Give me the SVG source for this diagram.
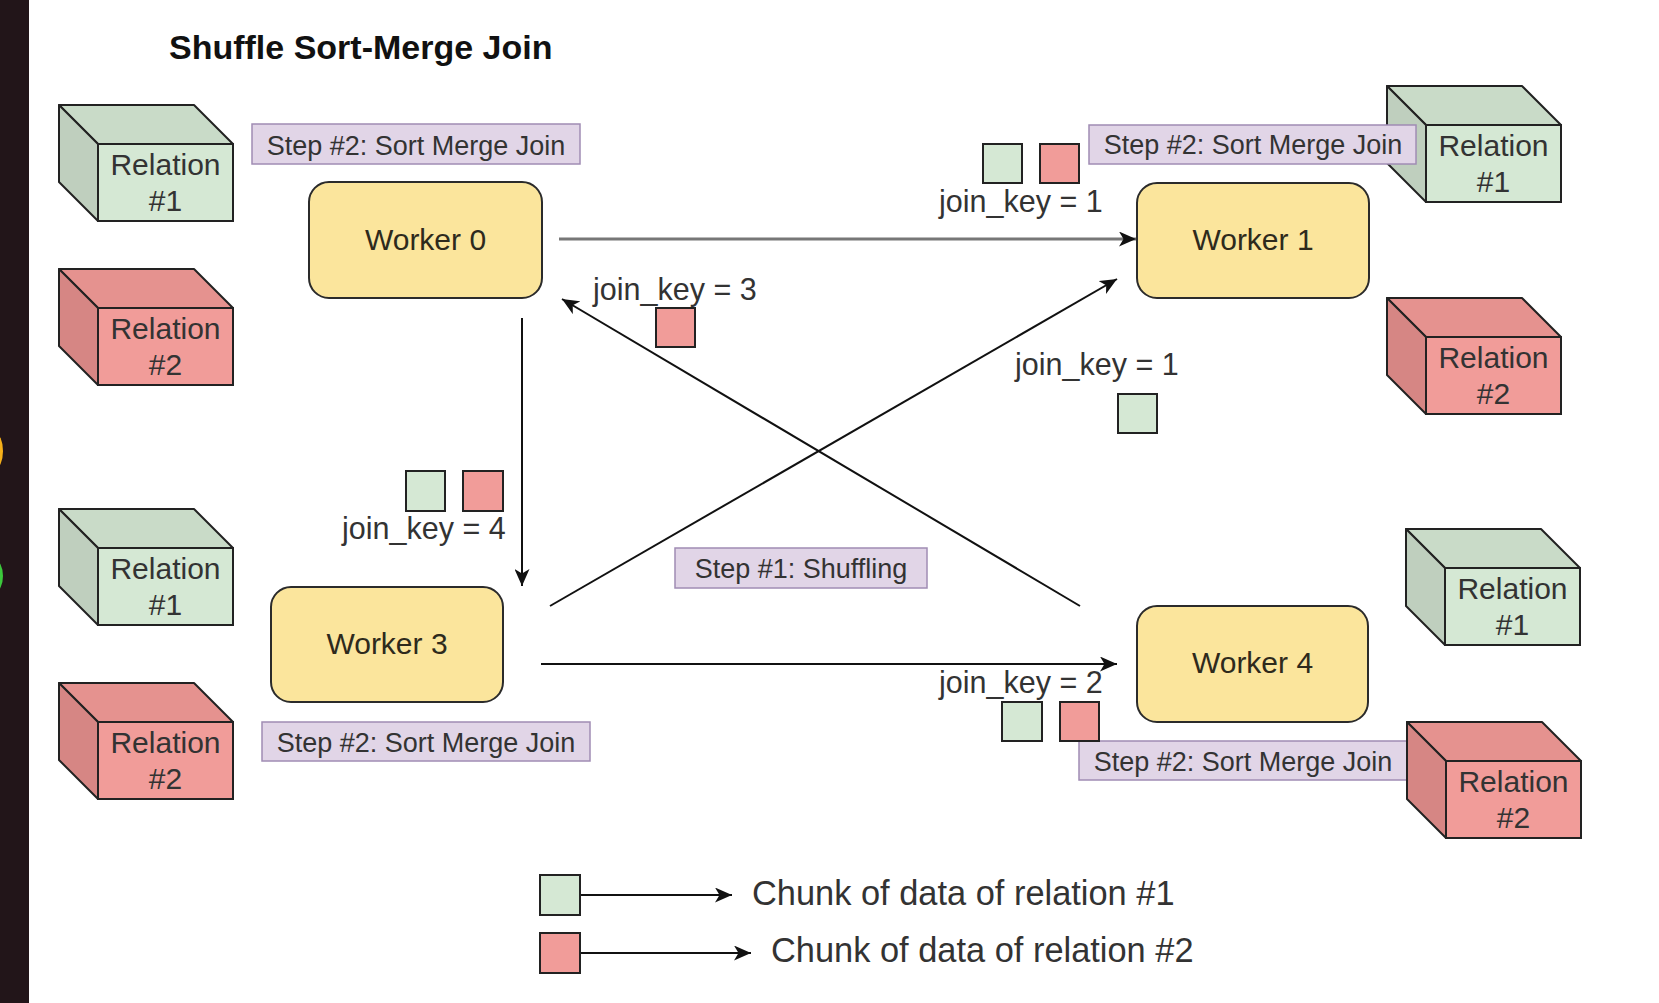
<svg xmlns="http://www.w3.org/2000/svg" width="1659" height="1003" viewBox="0 0 1659 1003">
<defs>
<style>
text{font-family:"Liberation Sans",Arial,sans-serif;fill:#333}
.title{font-weight:bold;font-size:34px;fill:#111}
.step{font-size:27px;text-anchor:middle}
.wk{font-size:30px;text-anchor:middle;fill:#2e2a1c}
.rel{font-size:30px;text-anchor:middle}
.jk{font-size:30.5px}
.leg{font-size:34.4px}
.lbl{fill:#e1d5e7;stroke:#a08cb4;stroke-width:1.5}
.worker{fill:#fbe59c;stroke:#2b2b2b;stroke-width:2}
.g{fill:#d5e8d4;stroke:#222;stroke-width:2}
.r{fill:#f19c99;stroke:#222;stroke-width:2}
.gt{fill:#c9dbc8;stroke:#222;stroke-width:2;stroke-linejoin:round}
.gs{fill:#bfcfbe;stroke:#222;stroke-width:2;stroke-linejoin:round}
.rt{fill:#e5928f;stroke:#222;stroke-width:2;stroke-linejoin:round}
.rs{fill:#d68684;stroke:#222;stroke-width:2;stroke-linejoin:round}
.edge{stroke:#111;stroke-width:2;fill:none;marker-end:url(#ah)}
</style>
<marker id="ah" markerUnits="userSpaceOnUse" markerWidth="18" markerHeight="15" viewBox="0 0 18 15" refX="17" refY="7.5" orient="auto">
<path d="M0,0 L17,7.5 L0,15 L4.5,7.5 Z" fill="#111"/>
</marker>
<g id="cubeG">
<path class="gt" d="M0,0 L135,0 L174,39 L39,39 Z"/>
<path class="gs" d="M0,0 L39,39 L39,116 L0,77 Z"/>
<rect class="g" x="39" y="39" width="135" height="77"/>
</g>
<g id="cubeR">
<path class="rt" d="M0,0 L135,0 L174,39 L39,39 Z"/>
<path class="rs" d="M0,0 L39,39 L39,116 L0,77 Z"/>
<rect class="r" x="39" y="39" width="135" height="77"/>
</g>
</defs>
<rect x="0" y="0" width="1659" height="1003" fill="#ffffff"/>
<rect x="0" y="0" width="29" height="1003" fill="#221519"/>
<ellipse cx="-5" cy="451" rx="8" ry="18" fill="#f6b01a"/>
<ellipse cx="-5" cy="576" rx="8" ry="16" fill="#3cc83c"/>

<text class="title" x="169" y="59">Shuffle Sort-Merge Join</text>

<g id="relation-tl-1"><use href="#cubeG" x="59" y="105"/><text class="rel" x="165.5" y="175">Relation</text><text class="rel" x="165.5" y="211">#1</text></g>
<g id="relation-tl-2"><use href="#cubeR" x="59" y="269"/><text class="rel" x="165.5" y="339">Relation</text><text class="rel" x="165.5" y="375">#2</text></g>
<g id="relation-bl-1"><use href="#cubeG" x="59" y="509"/><text class="rel" x="165.5" y="579">Relation</text><text class="rel" x="165.5" y="615">#1</text></g>
<g id="relation-bl-2"><use href="#cubeR" x="59" y="683"/><text class="rel" x="165.5" y="753">Relation</text><text class="rel" x="165.5" y="789">#2</text></g>
<g id="relation-tr-1"><use href="#cubeG" x="1387" y="86"/><text class="rel" x="1493.5" y="156">Relation</text><text class="rel" x="1493.5" y="192">#1</text></g>
<g id="relation-tr-2"><use href="#cubeR" x="1387" y="298"/><text class="rel" x="1493.5" y="368">Relation</text><text class="rel" x="1493.5" y="404">#2</text></g>
<g id="relation-br-1"><use href="#cubeG" x="1406" y="529"/><text class="rel" x="1512.5" y="599">Relation</text><text class="rel" x="1512.5" y="635">#1</text></g>

<g id="step2-br"><rect class="lbl" x="1079" y="741" width="330" height="39"/><text class="step" x="1243" y="771">Step #2: Sort Merge Join</text></g>
<g id="relation-br-2"><use href="#cubeR" x="1407" y="722"/><text class="rel" x="1513.5" y="792">Relation</text><text class="rel" x="1513.5" y="828">#2</text></g>

<g id="step2-tl"><rect class="lbl" x="252" y="124" width="328" height="40"/><text class="step" x="416" y="155">Step #2: Sort Merge Join</text></g>
<g id="step2-tr"><rect class="lbl" x="1089" y="125" width="327" height="39"/><text class="step" x="1253" y="154">Step #2: Sort Merge Join</text></g>
<g id="step2-bl"><rect class="lbl" x="262" y="722" width="328" height="39"/><text class="step" x="426" y="752">Step #2: Sort Merge Join</text></g>
<g id="step1"><rect class="lbl" x="675" y="548" width="252" height="40"/><text class="step" x="801" y="578">Step #1: Shuffling</text></g>

<g id="connectors">
<line x1="559" y1="239" x2="1136" y2="239" stroke="#777" stroke-width="3" marker-end="url(#ah)"/>
<line class="edge" x1="522" y1="318" x2="522" y2="586"/>
<line class="edge" x1="1080" y1="606" x2="562" y2="299"/>
<line class="edge" x1="550" y1="606" x2="1117" y2="279"/>
<line class="edge" x1="541" y1="664" x2="1117" y2="664"/>
<line class="edge" x1="580" y1="895" x2="732" y2="895"/>
<line class="edge" x1="580" y1="953" x2="751" y2="953"/>
</g>

<g id="worker0"><rect class="worker" x="309" y="182" width="233" height="116" rx="20"/><text class="wk" x="425.5" y="250">Worker 0</text></g>
<g id="worker1"><rect class="worker" x="1137" y="183" width="232" height="115" rx="20"/><text class="wk" x="1253" y="250">Worker 1</text></g>
<g id="worker3"><rect class="worker" x="271" y="587" width="232" height="115" rx="20"/><text class="wk" x="387" y="654">Worker 3</text></g>
<g id="worker4"><rect class="worker" x="1137" y="606" width="231" height="116" rx="20"/><text class="wk" x="1252.5" y="673">Worker 4</text></g>

<g id="chunks-w1"><rect class="g" x="983" y="144" width="39" height="39"/><rect class="r" x="1040" y="144" width="39" height="39"/><text class="jk" x="939" y="212">join_key = 1</text></g>
<g id="chunks-mid"><text class="jk" x="1015" y="375">join_key = 1</text><rect class="g" x="1118" y="394" width="39" height="39"/></g>
<g id="chunks-w0"><text class="jk" x="593" y="300">join_key = 3</text><rect class="r" x="656" y="308" width="39" height="39"/></g>
<g id="chunks-w3"><rect class="g" x="406" y="471" width="39" height="40"/><rect class="r" x="463" y="471" width="40" height="40"/><text class="jk" x="342" y="539">join_key = 4</text></g>
<g id="chunks-w4"><text class="jk" x="939" y="693">join_key = 2</text><rect class="g" x="1002" y="702" width="40" height="39"/><rect class="r" x="1060" y="702" width="39" height="39"/></g>

<g id="legend">
<rect class="g" x="540" y="875" width="40" height="40"/>
<text class="leg" x="752" y="905">Chunk of data of relation #1</text>
<rect class="r" x="540" y="933" width="40" height="40"/>
<text class="leg" x="771" y="962">Chunk of data of relation #2</text>
</g>
</svg>
